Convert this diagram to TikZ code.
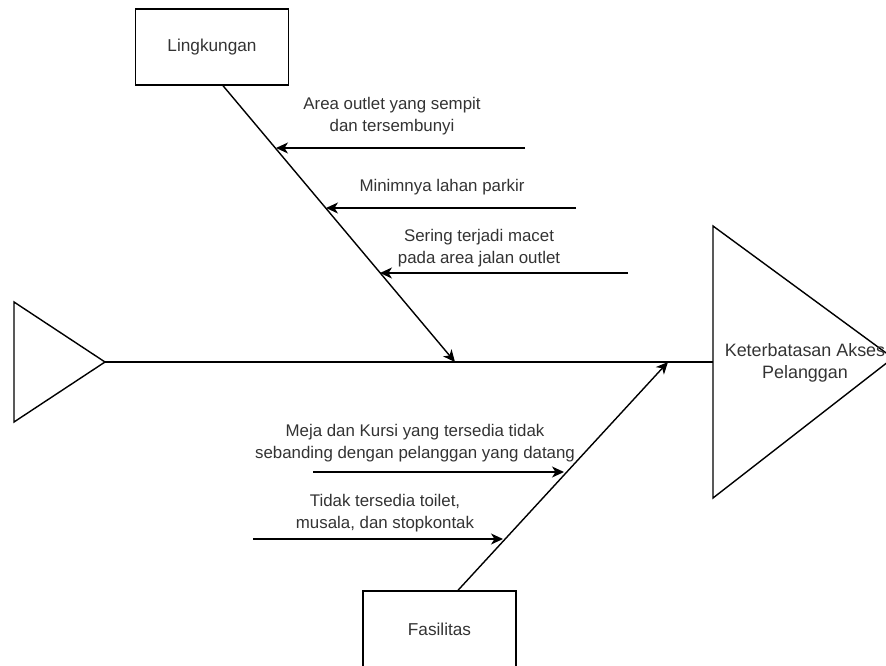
\documentclass[tikz,border=0pt]{standalone}
\usepackage{fontspec}
\setmainfont{Liberation Sans}
\usetikzlibrary{arrows.meta}

\tikzset{
  fishline/.style = {draw = black, line width = 0.8pt},
  bone/.style = {draw = black, line width = 0.8pt,
      -{Stealth[length = 2.4mm, width = 2.2mm, inset = 0.7mm]}},
  catbox/.style = {rectangle,
      draw = black,
      line width = 0.8pt,
      text = black!80,
      font = \fontsize{9.8pt}{12.4pt}\selectfont,
      minimum width = 3.06cm,
      minimum height = 1.52cm},
  causetext/.style = {align = center,
      inner sep = 0pt,
      text = black!80,
      font = \fontsize{9.6pt}{12.4pt}\selectfont},
  headtext/.style = {align = center,
      inner sep = 0pt,
      text = black!80,
      font = \fontsize{10.2pt}{12.6pt}\selectfont},
}

\begin{document}
\begin{tikzpicture}[x = 0.02cm, y = -0.02cm]
\useasboundingbox (0,0) rectangle (886,666);

% tail and head of the fish
\draw[fishline] (14,302) -- (105,362) -- (14,422) -- cycle;
\coordinate (tail) at (105,362);
\draw[fishline] (713,226) -- (893,358) -- (713,498) -- cycle;
\coordinate (head) at (713,362);
\node[headtext] (problem) at (805,363) {Keterbatasan Akses\\Pelanggan};
\draw[fishline] (tail) -- (head); % spine

% first category
\node[catbox] (lingkungan) at (212,47) {Lingkungan};
\coordinate (joint1) at (455,362);
\draw[bone] ([xshift = 0.22cm]lingkungan.south) -- (joint1);

\coordinate (c1from) at (525,148);
\coordinate (c1to) at (276,148);
\draw[bone] (c1from) -- (c1to);
\node[causetext] (c1text) at (392,116) {Area outlet yang sempit\\dan tersembunyi};

\coordinate (c2from) at (576,208);
\coordinate (c2to) at (326,208);
\draw[bone] (c2from) -- (c2to);
\node[causetext] (c2text) at (442,187) {Minimnya lahan parkir};

\coordinate (c3from) at (628,273);
\coordinate (c3to) at (380,273);
\draw[bone] (c3from) -- (c3to);
\node[causetext] (c3text) at (479,248) {Sering terjadi macet\\pada area jalan outlet};

% second category
\node[catbox] (fasilitas) at (439.5,629) {Fasilitas};
\coordinate (joint2) at (668,362);
\draw[bone] ([xshift = 0.37cm]fasilitas.north) -- (joint2);

\coordinate (c4from) at (313,472);
\coordinate (c4to) at (564,472);
\draw[bone] (c4from) -- (c4to);
\node[causetext] (c4text) at (415,443) {Meja dan Kursi yang tersedia tidak\\sebanding dengan pelanggan yang datang};

\coordinate (c5from) at (253,539);
\coordinate (c5to) at (503,539);
\draw[bone] (c5from) -- (c5to);
\node[causetext] (c5text) at (385,513) {Tidak tersedia toilet,\\musala, dan stopkontak};
\end{tikzpicture}
\end{document}
